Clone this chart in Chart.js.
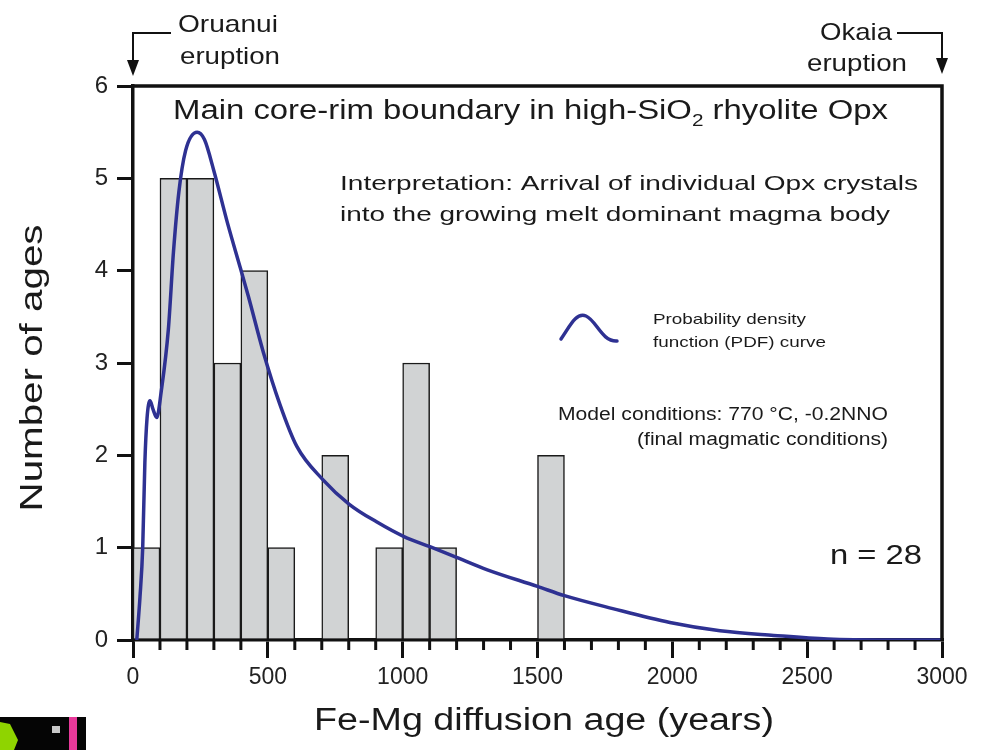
<!DOCTYPE html>
<html>
<head>
<meta charset="utf-8">
<script src="https://cdn.jsdelivr.net/npm/chart.js@4.4.1/dist/chart.umd.min.js"></script>
<style>
  html, body { margin: 0; padding: 0; background: #fff; }
  #wrap { width: 992px; height: 750px; position: relative; }
</style>
</head>
<body>
<div id="wrap"><canvas id="ageChart" width="992" height="750"></canvas></div>
<script>
// Histogram bins (years) and counts
const binStarts = [0, 100, 200, 300, 400, 500, 700, 900, 1000, 1100, 1500];
const binCounts = [1, 5, 5, 3, 4, 1, 2, 1, 3, 1, 2];
const binWidth = 100;

// PDF curve
const pdfAges = [14, 26, 36, 44, 52, 63, 74, 88, 105, 131, 150, 170, 195, 238, 265, 300, 350, 399, 428, 483, 545, 607, 703, 802, 903, 1005, 1101, 1195, 1314, 1500, 1600, 1779, 1991, 2177, 2376, 2576, 2800, 3000];
const pdfValues = [0, 0.47, 1.0, 1.92, 2.4, 2.59, 2.5, 2.41, 2.7, 3.36, 4.2, 4.85, 5.30, 5.50, 5.42, 5.08, 4.52, 4.02, 3.72, 3.12, 2.55, 2.10, 1.74, 1.47, 1.28, 1.12, 1.01, 0.90, 0.76, 0.58, 0.48, 0.34, 0.19, 0.10, 0.05, 0.01, 0, 0];

const xMin = 0, xMax = 3000, yMin = 0, yMax = 6;
const majorStep = 500;

const FONT = '"Liberation Sans", Arial, sans-serif';
const BLUE = '#2e3192';

// draw text stretched to a target width
function fitText(ctx, text, x, y, size, width, align) {
    ctx.save();
    ctx.font = size + 'px ' + FONT;
    const w = ctx.measureText(text).width;
    const sx = width ? width / w : 1;
    let left = x;
    if (align === 'center') left = x - (w * sx) / 2;
    if (align === 'right') left = x - w * sx;
    ctx.translate(left, y);
    ctx.scale(sx, 1);
    ctx.textAlign = 'left';
    ctx.textBaseline = 'middle';
    ctx.fillStyle = '#1a1a1a';
    ctx.fillText(text, 0, 0);
    ctx.restore();
}

const decorations = {
    id: 'decorations',
    afterDatasetsDraw(chart) {
        const { ctx, chartArea: a, scales } = chart;
        const xs = scales.x;

        // minor x ticks
        ctx.save();
        ctx.strokeStyle = '#111';
        ctx.lineWidth = 3;
        for (let v = xMin; v <= xMax; v += binWidth) {
            if (v % majorStep === 0) continue;
            const px = xs.getPixelForValue(v);
            ctx.beginPath();
            ctx.moveTo(px, a.bottom);
            ctx.lineTo(px, a.bottom + 10);
            ctx.stroke();
        }
        // box (top and right)
        ctx.lineWidth = 3.5;
        ctx.beginPath();
        ctx.moveTo(a.left, a.top);
        ctx.lineTo(a.right, a.top);
        ctx.lineTo(a.right, a.bottom);
        ctx.stroke();
        ctx.restore();

        // title with subscript
        ctx.save();
        const p1 = 'Main core-rim boundary in high-SiO', p2 = '2', p3 = ' rhyolite Opx';
        ctx.font = '27px ' + FONT;
        const w1 = ctx.measureText(p1).width, w3 = ctx.measureText(p3).width;
        ctx.font = '17px ' + FONT;
        const w2 = ctx.measureText(p2).width;
        const sx = 715 / (w1 + w2 + w3);
        ctx.translate(173, 112);
        ctx.scale(sx, 1);
        ctx.fillStyle = '#1a1a1a';
        ctx.textBaseline = 'middle';
        ctx.font = '27px ' + FONT;
        ctx.fillText(p1, 0, 0);
        ctx.font = '17px ' + FONT;
        ctx.fillText(p2, w1, 9);
        ctx.font = '27px ' + FONT;
        ctx.fillText(p3, w1 + w2, 0);
        ctx.restore();

        fitText(ctx, 'Interpretation: Arrival of individual Opx crystals', 340, 184, 21, 578, 'left');
        fitText(ctx, 'into the growing melt dominant magma body', 340, 215, 21, 550, 'left');

        // legend
        ctx.save();
        ctx.strokeStyle = BLUE;
        ctx.lineWidth = 3.5;
        ctx.lineCap = 'round';
        ctx.beginPath();
        ctx.moveTo(561, 339);
        ctx.bezierCurveTo(570, 326, 576, 312, 586, 316);
        ctx.bezierCurveTo(596, 320, 602, 342, 617, 341);
        ctx.stroke();
        ctx.restore();
        fitText(ctx, 'Probability density', 653, 320, 15, 153, 'left');
        fitText(ctx, 'function (PDF) curve', 653, 343, 15, 173, 'left');

        fitText(ctx, 'Model conditions: 770 \u00B0C, -0.2NNO', 888, 415, 18, 330, 'right');
        fitText(ctx, '(final magmatic conditions)', 888, 440, 18, 251, 'right');

        fitText(ctx, 'n = 28', 922, 557, 27, 92, 'right');

        // eruption markers
        ctx.save();
        ctx.strokeStyle = '#111';
        ctx.fillStyle = '#111';
        ctx.lineWidth = 2;
        const xl = xs.getPixelForValue(xMin), xr = xs.getPixelForValue(xMax);
        ctx.beginPath();
        ctx.moveTo(171, 33); ctx.lineTo(xl, 33); ctx.lineTo(xl, 64);
        ctx.moveTo(897, 33); ctx.lineTo(xr, 33); ctx.lineTo(xr, 62);
        ctx.stroke();
        [[xl, 76], [xr, 74]].forEach(([px, tip]) => {
            ctx.beginPath();
            ctx.moveTo(px - 6, tip - 16);
            ctx.lineTo(px + 6, tip - 16);
            ctx.lineTo(px, tip);
            ctx.closePath();
            ctx.fill();
        });
        ctx.restore();
        fitText(ctx, 'Oruanui', 178, 25, 24, 100, 'left');
        fitText(ctx, 'eruption', 180, 57, 24, 100, 'left');
        fitText(ctx, 'Okaia', 892, 33, 24, 72, 'right');
        fitText(ctx, 'eruption', 907, 64, 24, 100, 'right');

        // axis titles
        ctx.save();
        ctx.translate(33, 368);
        ctx.rotate(-Math.PI / 2);
        fitText(ctx, 'Number of ages', 0, 0, 31, 287, 'center');
        ctx.restore();
        fitText(ctx, 'Fe-Mg diffusion age (years)', 544, 721, 31, 460, 'center');

        // corner logo fragment
        ctx.save();
        ctx.fillStyle = '#050505';
        ctx.fillRect(0, 717, 86, 33);
        ctx.fillStyle = '#8fd400';
        ctx.beginPath();
        ctx.moveTo(0, 722); ctx.lineTo(10, 724); ctx.lineTo(18, 740); ctx.lineTo(14, 750); ctx.lineTo(0, 750);
        ctx.closePath();
        ctx.fill();
        ctx.fillStyle = '#e8399a';
        ctx.fillRect(69, 717, 8, 33);
        ctx.fillStyle = '#c8c8c8';
        ctx.fillRect(52, 726, 8, 7);
        ctx.restore();
    }
};

const ctx = document.getElementById('ageChart').getContext('2d');
new Chart(ctx, {
    type: 'bar',
    data: {
        datasets: [
            {
                type: 'line',
                label: 'PDF',
                data: pdfAges.map((a, i) => ({ x: a, y: pdfValues[i] })),
                borderColor: BLUE,
                borderWidth: 3.5,
                pointRadius: 0,
                cubicInterpolationMode: 'monotone',
                order: 0
            },
            {
                type: 'bar',
                label: 'Ages',
                data: binStarts.map((s, i) => ({ x: s + binWidth / 2, y: binCounts[i] })),
                backgroundColor: '#d1d3d4',
                borderColor: '#1a1a1a',
                borderWidth: 1.5,
                barPercentage: 1,
                categoryPercentage: 1,
                order: 1
            }
        ]
    },
    options: {
        responsive: false,
        animation: false,
        layout: { padding: { top: 86, right: 50, left: 0, bottom: 0 } },
        plugins: {
            legend: { display: false },
            tooltip: { enabled: false }
        },
        scales: {
            x: {
                type: 'linear',
                min: xMin,
                max: xMax,
                offset: false,
                afterFit: (s) => { s.height = 110; },
                border: { display: true, color: '#111', width: 3.5 },
                grid: {
                    offset: false,
                    drawOnChartArea: false,
                    drawTicks: true,
                    tickLength: 18,
                    lineWidth: 3,
                    tickColor: (c) => (c.tick && c.tick.value % majorStep === 0 ? '#111' : 'rgba(0,0,0,0)')
                },
                ticks: {
                    stepSize: binWidth,
                    autoSkip: false,
                    maxRotation: 0,
                    padding: 6,
                    color: '#222',
                    font: { family: FONT, size: 23 },
                    callback: (v) => (v % majorStep === 0 ? v : '')
                }
            },
            y: {
                min: yMin,
                max: yMax,
                afterFit: (s) => { s.width = 133; },
                border: { display: true, color: '#111', width: 3.5 },
                grid: {
                    drawOnChartArea: false,
                    drawTicks: true,
                    tickLength: 16,
                    lineWidth: 3,
                    tickColor: '#111'
                },
                ticks: {
                    stepSize: 1,
                    padding: 9,
                    color: '#222',
                    font: { family: FONT, size: 24 }
                }
            }
        }
    },
    plugins: [decorations]
});
</script>
</body>
</html>
